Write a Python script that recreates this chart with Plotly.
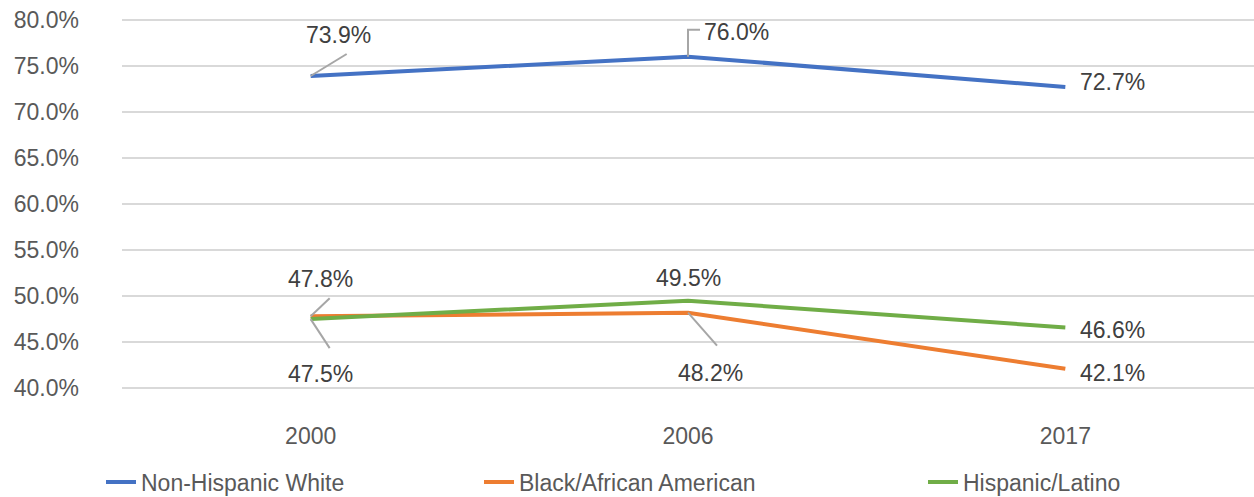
import plotly.graph_objects as go

years = ["2000", "2006", "2017"]
white = [73.9, 76.0, 72.7]
black = [47.8, 48.2, 42.1]
hispanic = [47.5, 49.5, 46.6]
series_names = ["Non-Hispanic White", "Black/African American", "Hispanic/Latino"]
colors = ["#4472C4", "#ED7D31", "#70AD47"]
y_ticks = [40, 45, 50, 55, 60, 65, 70, 75, 80]

FONT = "Liberation Sans, Arial, sans-serif"
FS = 23
PX = 9.2    # pixels per percentage point
PAD = 0.2   # range padding so end gridlines are drawn

fig = go.Figure()
data = [white, black, hispanic]
legends = ["legend", "legend2", "legend3"]
for name, vals, col, lg in zip(series_names, data, colors, legends):
    fig.add_trace(go.Scatter(x=years, y=vals, mode="lines", name=name, showlegend=True,
                             line=dict(color=col, width=4), legend=lg))

# label offsets in pixels (dx, dy: down positive) relative to the data point, and leader paths
label_specs = [
    (white, 0, 28, -41, "M0,0 L36,22"),
    (white, 1, 48, -25, "M0,0 V27 H12"),
    (white, 2, 47, -5, None),
    (black, 0, 10, -37, "M0,0 L19,18"),
    (hispanic, 0, 10, 55, "M0,0 L19,-29"),
    (hispanic, 1, 0, -23, None),
    (black, 1, 22, 60, "M0,0 L29,-33"),
    (hispanic, 2, 47, 3, None),
    (black, 2, 47, 4, None),
]
for vals, i, dx, dy, path in label_specs:
    fig.add_annotation(x=i, y=vals[i], xref="x", yref="y", text=f"{vals[i]:.1f}%",
                       showarrow=False, xshift=dx, yshift=-dy,
                       font=dict(family=FONT, size=FS, color="#404040"))
    if path:
        fig.add_shape(type="path", xref="x", yref="y", xsizemode="pixel", ysizemode="pixel",
                      xanchor=i, yanchor=vals[i], path=path,
                      line=dict(color="#A6A6A6", width=2))

fig.update_layout(
    width=1254, height=497, showlegend=True,
    margin=dict(l=122, r=0, t=20 - PAD * PX, b=109 - PAD * PX, autoexpand=False),
    plot_bgcolor="white", paper_bgcolor="white",
    font=dict(family=FONT, size=FS, color="#595959"),
    xaxis=dict(type="category", range=[-0.5, 2.5], showgrid=False, showline=False, ticks="",
               ticklabelstandoff=30, automargin=False,
               tickfont=dict(size=FS, color="#595959")),
    yaxis=dict(range=[40 - PAD, 80 + PAD], tickvals=y_ticks,
               ticktext=[f"{v:.1f}%" for v in y_ticks],
               showgrid=True, gridcolor="#D9D9D9", gridwidth=1.5, zeroline=False,
               showline=False, ticks="", ticklabelstandoff=42, automargin=False,
               tickfont=dict(size=FS, color="#595959")),
)
legend_common = dict(orientation="h", yanchor="middle", xanchor="left",
                     xref="container", yref="container",
                     y=(497 - 482) / 497, bgcolor="rgba(0,0,0,0)",
                     font=dict(family=FONT, size=FS, color="#595959"))
fig.update_layout(
    legend=dict(x=101 / 1254, **legend_common),
    legend2=dict(x=479 / 1254, **legend_common),
    legend3=dict(x=923 / 1254, **legend_common),
)

fig.write_html("out.html", config={"displayModeBar": False},
               post_script="document.body.style.margin='0';")
